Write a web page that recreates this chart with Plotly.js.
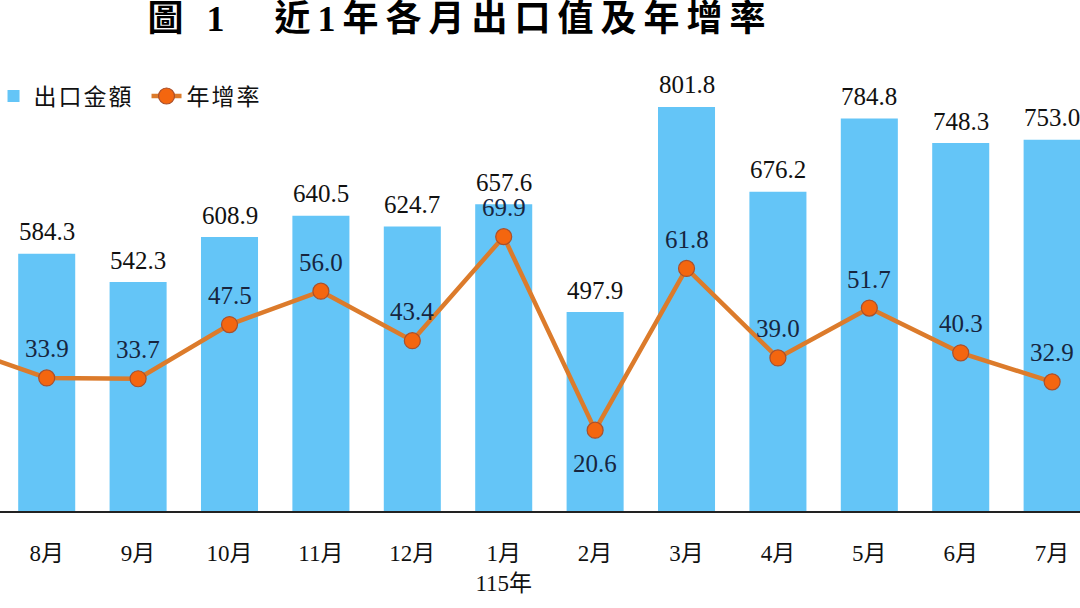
<!DOCTYPE html>
<html>
<head>
<meta charset="utf-8">
<script src="https://cdn.plot.ly/plotly-3.0.1.min.js"></script>
<style>
  html, body { margin: 0; padding: 0; background: #fff; }
  #chart { width: 1080px; height: 608px; }
  .gtitle { letter-spacing: 7px; }
  .legendtext { letter-spacing: 2px; }
</style>
</head>
<body>
<div id="chart"></div>
<script>
// ---- data ----
const months = ['7月(114年)', '8月', '9月', '10月', '11月', '12月', '1月(115年)', '2月', '3月', '4月', '5月', '6月', '7月'];
const monthLabels = ['7月', '8月', '9月', '10月', '11月', '12月', '1月<br>115年', '2月', '3月', '4月', '5月', '6月', '7月'];
const exportValues = [null, 584.3, 542.3, 608.9, 640.5, 624.7, 657.6, 497.9, 801.8, 676.2, 784.8, 748.3, 753.0];
const growthRates = [42.0, 33.9, 33.7, 47.5, 56.0, 43.4, 69.9, 20.6, 61.8, 39.0, 51.7, 40.3, 32.9];
const seriesNames = ['出口金額', '年增率'];
const chartTitle = '圖 1　近1年各月出口值及年增率';

// ---- style ----
const FONT = "'Liberation Serif', 'Times New Roman', 'Noto Sans CJK TC', serif";
const barColor = '#64C5F7';
const lineColor = '#DC7B2B';
const markerFill = '#F4660F';
const markerEdge = '#A9502C';
const labelsBelow = new Set(['2月']);

const bars = {
  type: 'bar',
  name: seriesNames[0],
  x: months,
  y: exportValues,
  marker: { color: barColor },
  yaxis: 'y',
  hoverinfo: 'x+y'
};

const line = {
  type: 'scatter',
  mode: 'lines+markers',
  name: seriesNames[1],
  x: months,
  y: growthRates,
  yaxis: 'y2',
  line: { color: lineColor, width: 4.5 },
  marker: { size: 16, color: markerFill, line: { color: markerEdge, width: 1.2 } },
  cliponaxis: false,
  hoverinfo: 'x+y'
};

const annotations = [];
exportValues.forEach((v, i) => {
  if (v === null) return;
  annotations.push({
    x: months[i], y: v, xref: 'x', yref: 'y',
    text: v.toFixed(1), showarrow: false,
    yshift: 22, yanchor: 'middle',
    font: { family: FONT, size: 25, color: '#111111' }
  });
});
growthRates.forEach((v, i) => {
  if (i === 0) return;
  const below = labelsBelow.has(months[i]);
  annotations.push({
    x: months[i], y: v, xref: 'x', yref: 'y2',
    text: v.toFixed(1), showarrow: false,
    yshift: below ? -33 : 29, yanchor: 'middle',
    font: { family: FONT, size: 25, color: '#17253F' }
  });
});

const layout = {
  width: 1080,
  height: 608,
  margin: { l: 0, r: 0, t: 40, b: 97, autoexpand: false },
  paper_bgcolor: '#ffffff',
  plot_bgcolor: '#ffffff',
  font: { family: FONT, color: '#111111' },
  title: {
    text: chartTitle,
    font: { family: FONT, size: 36, weight: 700, color: '#000000' },
    xref: 'paper', x: 0.426, xanchor: 'center',
    yref: 'container', y: 0.970, yanchor: 'middle'
  },
  bargap: 0.376,
  showlegend: true,
  legend: {
    orientation: 'h',
    x: -0.006, xanchor: 'left',
    y: 0.881, yanchor: 'middle',
    font: { family: FONT, size: 23, color: '#111111' },
    bgcolor: 'rgba(0,0,0,0)',
    itemwidth: 30,
    entrywidth: 108,
    entrywidthmode: 'pixels'
  },
  xaxis: {
    type: 'category',
    range: [0.489, 12.305],
    tickmode: 'array',
    tickvals: months,
    ticktext: monthLabels,
    tickfont: { family: FONT, size: 23, color: '#111111' },
    ticks: '',
    ticklabelstandoff: 21,
    showline: true,
    linecolor: '#222222',
    linewidth: 1.5,
    showgrid: false,
    zeroline: false,
    fixedrange: true
  },
  yaxis: {
    range: [203, 901],
    visible: false,
    showgrid: false,
    zeroline: false,
    fixedrange: true
  },
  yaxis2: {
    range: [0, 120],
    overlaying: 'y',
    side: 'right',
    visible: false,
    showgrid: false,
    zeroline: false,
    fixedrange: true
  },
  annotations: annotations
};

Plotly.newPlot('chart', [bars, line], layout, { displayModeBar: false, staticPlot: true });
</script>
</body>
</html>
